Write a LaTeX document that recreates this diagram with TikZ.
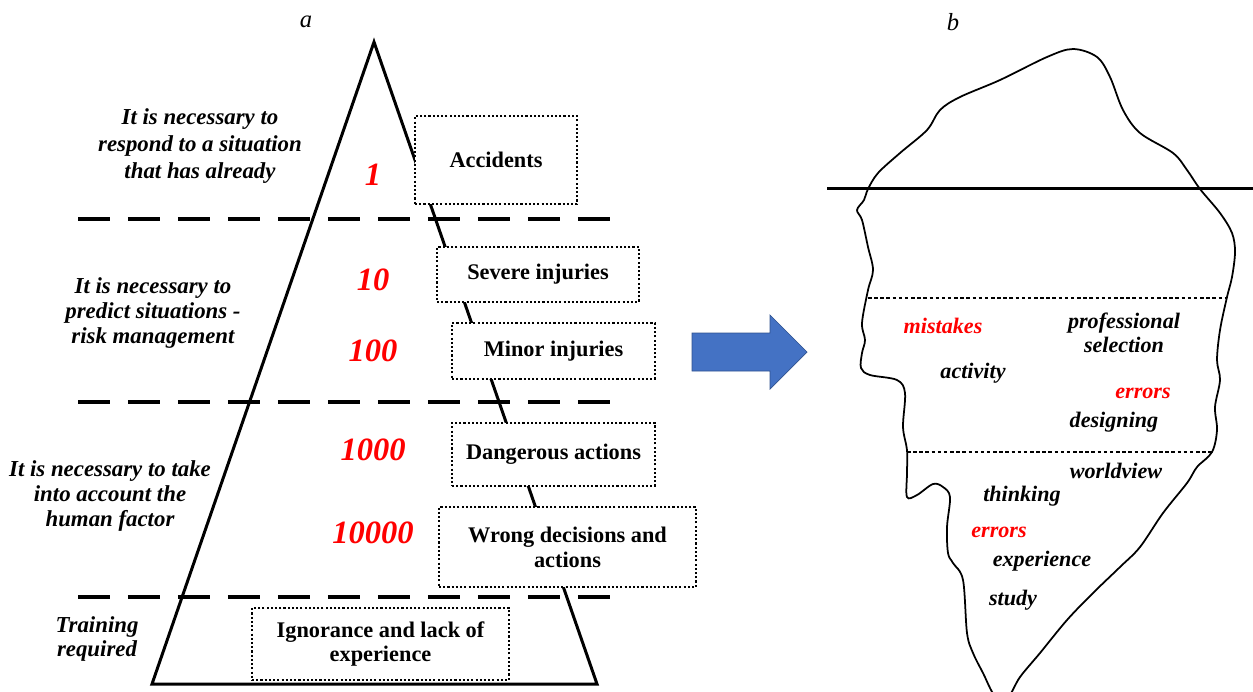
\documentclass[tikz,border=0pt]{standalone}
\usepackage{fontspec}
\setmainfont{Liberation Serif}
\usepackage{tikz}
\usetikzlibrary{positioning}
\definecolor{arrowblue}{HTML}{4472C4}
\definecolor{arrowedge}{HTML}{2F528F}

\begin{document}
\begin{tikzpicture}
    [
    x=0.02cm,y=-0.02cm,
    edge/.style={line width=1.7pt,line join=miter},
    level/.style={line width=2pt,dash pattern=on 18.2pt off 10.25pt},
    box/.style={draw,fill=white,line width=0.8pt,dash pattern=on 1.2pt off 1.2pt,inner sep=0pt,align=center,font=\bfseries\fontsize{12.7}{14.2}\selectfont},
    side/.style={align=center,font=\bfseries\itshape\fontsize{13}{14}\selectfont},
    num/.style={text=red,font=\bfseries\itshape\fontsize{18.5}{18.5}\selectfont},
    word/.style={align=center,font=\bfseries\itshape\fontsize{12.6}{13.5}\selectfont},
    tag/.style={font=\itshape\fontsize{14}{14}\selectfont},
    berg/.style={line width=1pt},
    depth/.style={line width=0.7pt,dash pattern=on 2pt off 1.5pt},
    ]
    \useasboundingbox (0,0) rectangle (1253,691);

    \node (la) at (306,22) [tag] {a};
    \node (lb) at (953,22) [tag] {b};

    % pyramid
    \coordinate (apex) at (374,42);
    \coordinate (bl) at (152,684);
    \coordinate (br) at (597,684);
    \draw [edge] (bl) -- (apex) -- (br) -- cycle;

    \draw [level] (78,219) -- (612,219);
    \draw [level] (78,402) -- (612,402);
    \draw [level] (78,597) -- (612,597);

    \node (acc) at (496,160) [box,minimum width=3.24cm,minimum height=1.76cm] {Accidents};
    \node (sev) at (538,274.5) [box,minimum width=4.04cm,minimum height=1.1cm] {Severe injuries};
    \node (min) at (553.5,351) [box,minimum width=4.06cm,minimum height=1.12cm] {Minor injuries};
    \node (dng) at (553.5,454.5) [box,minimum width=4.06cm,minimum height=1.26cm] {Dangerous actions};
    \node (wrg) at (567.5,547) [box,minimum width=5.14cm,minimum height=1.6cm] {Wrong decisions and\\actions};
    \node (ign) at (380.5,644) [box,minimum width=5.14cm,minimum height=1.44cm] {Ignorance and lack of\\experience};

    \node (n1) at (373,175) [num] {1};
    \node (n10) at (373,280) [num] {10};
    \node (n100) at (373,351) [num] {100};
    \node (n1000) at (373,450) [num] {1000};
    \node (n10000) at (373,533) [num] {10000};

    \node (s1) at (200,146) [side,font=\bfseries\itshape\fontsize{13}{15.4}\selectfont] {It is necessary to\\respond to a situation\\that has already};
    \node (s2) at (153,313) [side] {It is necessary to\\predict situations -\\risk management};
    \node (s3) at (110,496) [side] {It is necessary to take\\into account the\\human factor};
    \node (s4) at (97,639) [side] {Training\\required};

    % arrow
    \filldraw [fill=arrowblue,draw=arrowedge,line width=0.4pt] (692,333) -- (770,333) -- (770,315) -- (807,352)
      -- (770,389) -- (770,371) -- (692,371) -- cycle;

    % iceberg
    \draw [berg] plot [smooth cycle,tension=0.55] coordinates {
      (868,189) (878,173) (900,153) (927,130) (940,110) (960,97) (1000,80) (1047,57)
      (1073,49) (1097,57) (1110,77) (1123,110) (1140,133) (1173,153) (1187,170)
      (1200,189) (1220,213) (1232,233) (1235,252) (1232,277) (1227,297) (1220,330)
      (1217,360) (1220,380) (1215,407) (1217,430) (1212,452) (1197,467) (1187,483)
      (1163,513) (1140,547) (1120,567) (1093,593) (1067,620) (1040,653) (1020,677)
      (1008,697) (995,696) (983,673) (973,653) (967,633) (963,580) (953,563)
      (948,553) (947,527) (950,497) (943,487) (933,484) (917,495) (907,497)
      (907,473) (907,450) (903,427) (905,393) (897,380) (870,375) (861,368)
      (862,353) (865,340) (862,323) (868,290) (873,270) (868,247) (862,220)
      (857,210) (864,200)};
    \draw [line width=1.7pt] (827,188) -- (1253,188);
    \draw [depth] (868,298) -- (1226,298);
    \draw [depth] (907,452) -- (1212,452);

    \node (w1) at (943,326) [word,text=red] {mistakes};
    \node (w2) at (1124,333) [word] {professional\\selection};
    \node (w3) at (973,373) [word] {activity};
    \node (w4) at (1143,393) [word,text=red] {errors};
    \node (w5) at (1114,422) [word] {designing};
    \node (w6) at (1116,471) [word] {worldview};
    \node (w7) at (1022,496) [word] {thinking};
    \node (w8) at (999,532) [word,text=red] {errors};
    \node (w9) at (1042,561) [word] {experience};
    \node (w10) at (1013,600) [word] {study};
\end{tikzpicture}
\end{document}
